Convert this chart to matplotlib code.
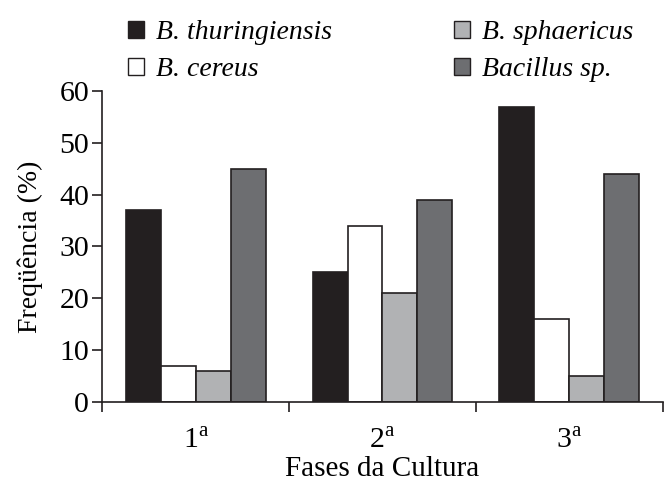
#!/usr/bin/env python3
import numpy as np
import matplotlib
matplotlib.use('Agg')
import matplotlib.pyplot as plt
from matplotlib.patches import Patch

plt.rcParams['font.family'] = 'Liberation Serif'
plt.rcParams['mathtext.fontset'] = 'custom'
plt.rcParams['mathtext.rm'] = 'Liberation Serif'

fases = ['1$^{\\mathrm{a}}$', '2$^{\\mathrm{a}}$', '3$^{\\mathrm{a}}$']
especies = ['B. thuringiensis', 'B. cereus', 'B. sphaericus', 'Bacillus sp.']
thuringiensis = [37, 25, 57]
cereus = [7, 34, 16]
sphaericus = [6, 21, 5]
bacillus_sp = [45, 39, 44]
cores = ['#231f20', '#ffffff', '#b1b2b4', '#6d6e71']

series = [thuringiensis, cereus, sphaericus, bacillus_sp]

fig = plt.figure(figsize=(6.64, 4.87), dpi=100)
ax = fig.add_axes([0.154, 0.175, 0.844, 0.638])

x = np.arange(len(fases))
width = 0.187
for i, (vals, cor) in enumerate(zip(series, cores)):
    ax.bar(x + (i - 1.5) * width, vals, width, color=cor,
           edgecolor='#231f20', linewidth=1.2)

ax.set_xlim(-0.5, 2.5)
ax.set_ylim(0, 60)
ax.set_yticks(range(0, 61, 10))
ax.set_xticks(x)
ax.set_xticklabels(fases)
ax.set_xticks([-0.5, 0.5, 1.5, 2.5], minor=True)
ax.tick_params(axis='x', which='major', length=0, labelsize=21.5, pad=19.5)
ax.tick_params(axis='x', which='minor', length=7.5, width=1.2, color='#231f20')
ax.tick_params(axis='y', length=7.5, width=1.2, color='#231f20', labelsize=21.5, pad=2)

for s in ['top', 'right']:
    ax.spines[s].set_visible(False)
for s in ['left', 'bottom']:
    ax.spines[s].set_linewidth(1.2)
    ax.spines[s].set_color('#231f20')

ax.set_xlabel('Fases da Cultura', fontsize=21, labelpad=1)
ax.set_ylabel('Freqüência (%)', fontsize=20, labelpad=12)

handles = [Patch(facecolor=c, edgecolor='#231f20', linewidth=1.0) for c in cores]
fig.legend(handles, especies, ncol=2, loc='upper left',
           bbox_to_anchor=(128 / 664, 1 - 20 / 487), frameon=False,
           borderpad=0, borderaxespad=0,
           prop={'style': 'italic', 'size': 20},
           handlelength=0.58, handleheight=0.58, handletextpad=0.43,
           columnspacing=4.4, labelspacing=0.45)

fig.savefig('out.png', dpi=100)
